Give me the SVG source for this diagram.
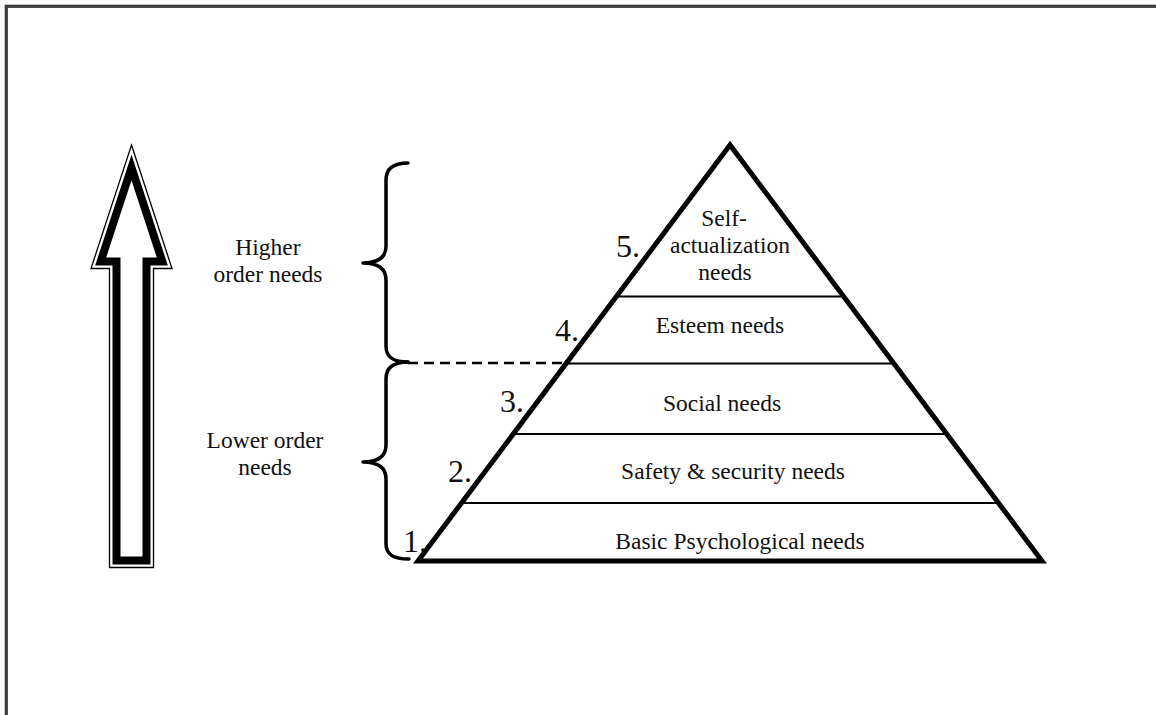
<svg xmlns="http://www.w3.org/2000/svg" width="1156" height="715" viewBox="0 0 1156 715">
<style>
.t{font-family:"Liberation Serif","Times New Roman",serif;font-size:23.5px;fill:#111;text-anchor:middle}
.n{font-family:"Liberation Serif","Times New Roman",serif;font-size:32px;fill:#111}
.brace{fill:none;stroke:#000;stroke-width:3.5;stroke-linecap:round;stroke-linejoin:round}
.tier{stroke:#000;stroke-width:2}
</style>
<rect width="1156" height="715" fill="#fff"/>
<rect x="6.3" y="6.3" width="1300" height="900" fill="none" stroke="#3c3c3c" stroke-width="3.2"/>
<g id="arrow">
<polygon points="131.5,145 172,268.5 153.5,268.5 153.5,567.5 109.5,567.5 109.5,268.5 91,268.5" fill="none" stroke="#000" stroke-width="1.3"/>
<polygon points="131.5,167.5 162.34,261.5 146.5,261.5 146.5,560.5 116.5,560.5 116.5,261.5 100.66,261.5" fill="none" stroke="#000" stroke-width="8" stroke-linejoin="miter"/>
</g>
<g id="higher-brace">
<path class="brace" d="M408,163 C394,163 386,168 386,180 L386,246 C386,258 378,263 363,263 C378,263 386,268 386,280 L386,346 C386,358 394,362 408,362"/>
<text class="t" x="268" y="255">Higher</text>
<text class="t" x="268" y="282">order needs</text>
</g>
<g id="lower-brace">
<path class="brace" d="M408,362 C394,362 386,367 386,379 L386,445 C386,457 378,462 363,462 C378,462 386,467 386,479 L386,544 C386,555 394,559 409,559"/>
<text class="t" x="265" y="448">Lower order</text>
<text class="t" x="265" y="475">needs</text>
</g>
<g id="connectors">
<line x1="408" y1="363" x2="566" y2="363" stroke="#000" stroke-width="2.5" stroke-dasharray="10 6"/>
</g>
<g id="pyramid">
<line class="tier" x1="616.4" y1="296.5" x2="843.6" y2="296.5"/>
<line class="tier" x1="566" y1="363.5" x2="894" y2="363.5"/>
<line class="tier" x1="513.3" y1="434" x2="946.7" y2="434"/>
<line class="tier" x1="461.5" y1="503" x2="998.5" y2="503"/>
<polygon points="730,145 418,561 1042,561" fill="none" stroke="#000" stroke-width="5" stroke-linejoin="miter"/>
</g>
<g id="level-5">
<text class="t" x="724" y="226">Self-</text>
<text class="t" x="730" y="253">actualization</text>
<text class="t" x="725" y="280">needs</text>
<text class="n" x="616" y="257">5.</text>
</g>
<g id="level-4">
<text class="t" x="720" y="333">Esteem needs</text>
<text class="n" x="555" y="341">4.</text>
</g>
<g id="level-3">
<text class="t" x="722" y="411">Social needs</text>
<text class="n" x="500" y="412">3.</text>
</g>
<g id="level-2">
<text class="t" x="733" y="479">Safety &amp; security needs</text>
<text class="n" x="448" y="482">2.</text>
</g>
<g id="level-1">
<text class="t" x="740" y="549">Basic Psychological needs</text>
<text class="n" x="403" y="552">1.</text>
</g>
</svg>
